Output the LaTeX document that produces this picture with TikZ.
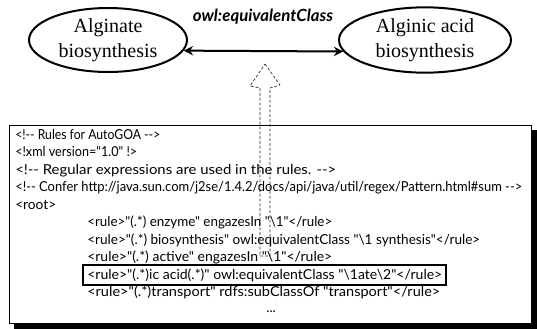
\documentclass[tikz,border=0pt]{standalone}
\usepackage{fontspec}
\setmainfont{Liberation Serif}
\newfontfamily\gill{Lato}
\usetikzlibrary{shapes.geometric,arrows.meta}
\newsavebox\fitbox
\newcommand\fitw[2]{\sbox\fitbox{#2}\pgfmathsetmacro\fitx{#1/\wd\fitbox}\scalebox{\fitx}[1]{\usebox\fitbox}}
\begin{document}
\begin{tikzpicture}[x=0.75pt,y=-0.75pt,
  ell/.style={ellipse, draw, line width=1.5pt, inner sep=0pt, align=center,
    font=\fontsize{15}{19}\selectfont},
  rel/.style={draw, line width=1.5pt, {Stealth[length=7pt,width=7pt]}-{Stealth[length=7pt,width=7pt]}},
  code/.style={anchor=base west, inner sep=0pt, font=\gill\fontsize{10.3}{12}\selectfont},
  hint/.style={draw=black!85, line width=0.5pt, dash pattern=on 2.2pt off 1.4pt, line join=round}]
\useasboundingbox (0,0) rectangle (537,329);

% ellipses
\node[ell, minimum width=118.5pt, minimum height=48pt] (L) at (108,40) {Alginate\\biosynthesis};
\node[ell, minimum width=129pt, minimum height=49pt] (R) at (425,40) {Alginic acid\\biosynthesis};
\draw[rel] (L.-8) -- (R.188);
\node[font=\gill\bfseries\itshape\fontsize{12.6}{14}\selectfont, inner sep=0pt] (lab) at (263,17) {owl:equivalentClass};

% rule box with shadow
\fill[black] (14,130) rectangle (537,329);
\node[draw, fill=white, line width=0.6pt, minimum width=391.5pt, minimum height=148.5pt, inner sep=0pt, anchor=north west] (box) at (9,125) {};

% dashed block arrow
\coordinate (tip) at (265,64);
\draw[hint] (tip) -- (280,85) -- (270,88) -- (270,256) -- (260,256) -- (260,88) -- (250,86) -- cycle;

% code lines
\node[code] (l1) at (15,139) {\fitw{108.75}{<!-{}- Rules for AutoGOA -{}->}};
\node[code] (l2) at (15,156.5) {\fitw{91.5}{<!xml version="1.0" !>}};
\node[code] (l3) at (15,174) {\fitw{240.75}{<!-{}- Regular expressions are used in the rules. -{}->}};
\node[code] (l4) at (15,191.5) {\fitw{380.25}{<!-{}- Confer http://java.sun.com/j2se/1.4.2/docs/api/java/util/regex/Pattern.html\#sum -{}->}};
\node[code] (l5) at (15,209) {<root>};
\node[code] (l6) at (87,226.5) {\fitw{183.75}{<rule>"(.*) enzyme" engazesIn "\textbackslash 1"</rule>}};
\node[code] (l7) at (87,244) {\fitw{294.75}{<rule>"(.*) biosynthesis" owl:equivalentClass "\textbackslash 1 synthesis"</rule>}};
\node[code] (l8) at (87,261.5) {\fitw{183.75}{<rule>"(.*) active" engazesIn "\textbackslash 1"</rule>}};
\node[code] (l9) at (87,279) {\fitw{266.25}{<rule>"(.*)ic acid(.*)" owl:equivalentClass "\textbackslash 1ate\textbackslash 2"</rule>}};
\node[code] (l10) at (87,296.5) {\fitw{264.75}{<rule>"(.*)transport" rdfs:subClassOf "transport"</rule>}};
\node[code] (l11) at (266,312) {...};

% highlight
\draw[line width=1.1pt] (83,265) rectangle (446,285);
\end{tikzpicture}
\end{document}
